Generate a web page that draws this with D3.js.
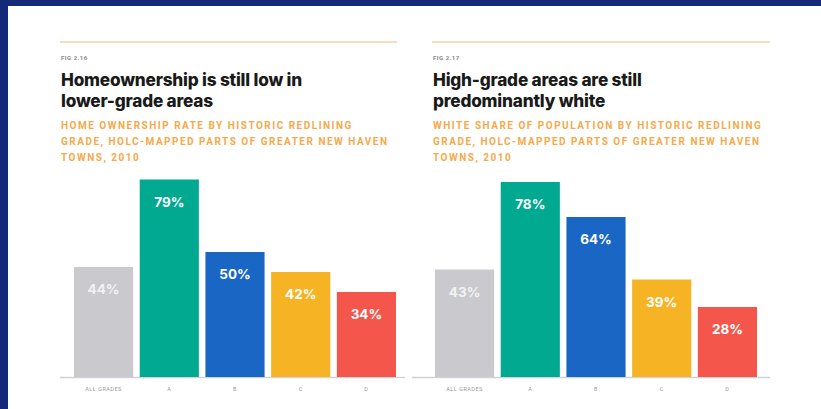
<!DOCTYPE html>
<html>
<head>
<meta charset="utf-8">
<script src="https://cdn.jsdelivr.net/npm/d3@7"></script>
<style>
  body { margin: 0; background: #fff; }
  svg { display: block; }
</style>
</head>
<body>
<div id="chart"></div>
<script>
// grades along the x axis
var grades = ["ALL GRADES", "A", "B", "C", "D"];
var gradeColors = ["#c9c9ce", "#00a98f", "#1a66c4", "#f6b324", "#f5564b"];

// fig 2.16 - homeownership rate (%)
var homeownership = [44, 79, 50, 42, 34];
// fig 2.17 - white share of population (%)
var whiteShare = [43, 78, 64, 39, 28];

var panels = [
    {
        fig: "FIG 2.16",
        title: ["Homeownership is still low in", "lower-grade areas"],
        sub: ["HOME OWNERSHIP RATE BY HISTORIC REDLINING", "GRADE, HOLC-MAPPED PARTS OF GREATER NEW HAVEN", "TOWNS, 2010"],
        values: homeownership,
        left: 61, ruleEnd: 397, axis: [60, 405], bars: [74, 396]
    },
    {
        fig: "FIG 2.17",
        title: ["High-grade areas are still", "predominantly white"],
        sub: ["WHITE SHARE OF POPULATION BY HISTORIC REDLINING", "GRADE, HOLC-MAPPED PARTS OF GREATER NEW HAVEN", "TOWNS, 2010"],
        values: whiteShare,
        left: 433, ruleEnd: 770, axis: [412, 770], bars: [435, 757]
    }
];

var width = 821, height = 409;
var svg = d3.select("#chart").append("svg")
    .attr("width", width)
    .attr("height", height);

svg.append("rect").attr("width", width).attr("height", height).attr("fill", "#fff");
// navy frame
svg.append("rect").attr("x", 0).attr("y", 0).attr("width", width).attr("height", 6).attr("fill", "#15297a");
svg.append("rect").attr("x", 0).attr("y", 0).attr("width", 8).attr("height", height).attr("fill", "#15297a");

var y = d3.scaleLinear().domain([0, 100]).range([377, 127]);

panels.forEach(function(p) {
    var g = svg.append("g");

    g.append("line")
        .attr("x1", p.left - 1).attr("x2", p.ruleEnd)
        .attr("y1", 42).attr("y2", 42)
        .attr("stroke", "#f7dcbd").attr("stroke-width", 2);

    g.append("text")
        .attr("x", p.left).attr("y", 60)
        .attr("font-family", "Roboto, sans-serif")
        .attr("font-size", 6).attr("font-weight", 700)
        .attr("letter-spacing", 0.5)
        .attr("fill", "#888")
        .text(p.fig);

    p.title.forEach(function(t, i) {
        g.append("text")
            .attr("x", p.left).attr("y", 86 + i * 21)
            .attr("font-family", "Inter, sans-serif")
            .attr("font-size", 17.2).attr("font-weight", 800)
            .attr("letter-spacing", -0.2)
            .attr("fill", "#1a1a1a")
            .text(t);
    });

    p.sub.forEach(function(t, i) {
        g.append("text")
            .attr("x", p.left).attr("y", 128.5 + i * 16)
            .attr("font-family", "Roboto, sans-serif")
            .attr("font-size", 10).attr("font-weight", 700)
            .attr("letter-spacing", 1.5)
            .attr("fill", "#f6a94a")
            .text(t);
    });

    var x = d3.scaleBand()
        .domain(grades)
        .range(p.bars)
        .paddingInner(0.1)
        .paddingOuter(0);

    g.append("line")
        .attr("x1", p.axis[0]).attr("x2", p.axis[1])
        .attr("y1", y(0) + 0.5).attr("y2", y(0) + 0.5)
        .attr("stroke", "#cfd3d8").attr("stroke-width", 1.5);

    var data = grades.map(function(d, i) { return { grade: d, value: p.values[i], color: gradeColors[i] }; });

    g.selectAll("rect.bar")
        .data(data)
        .enter().append("rect")
        .attr("class", "bar")
        .attr("x", function(d) { return x(d.grade); })
        .attr("y", function(d) { return y(d.value); })
        .attr("width", x.bandwidth())
        .attr("height", function(d) { return y(0) - y(d.value); })
        .attr("fill", function(d) { return d.color; });

    g.selectAll("text.val")
        .data(data)
        .enter().append("text")
        .attr("class", "val")
        .attr("x", function(d) { return x(d.grade) + x.bandwidth() / 2; })
        .attr("y", function(d) { return y(d.value) + 27; })
        .attr("text-anchor", "middle")
        .attr("font-family", "Inter, sans-serif")
        .attr("font-size", 13.5).attr("font-weight", 700)
        .attr("fill", function(d, i) { return i == 0 ? "#f2f2f4" : "#fff"; })
        .text(function(d) { return d.value + "%"; });

    g.selectAll("text.tick")
        .data(data)
        .enter().append("text")
        .attr("class", "tick")
        .attr("x", function(d) { return x(d.grade) + x.bandwidth() / 2; })
        .attr("y", 391)
        .attr("text-anchor", "middle")
        .attr("font-family", "Roboto, sans-serif")
        .attr("font-size", 5.5)
        .attr("letter-spacing", 0.5)
        .attr("fill", "#999")
        .text(function(d) { return d.grade; });
});
</script>
</body>
</html>
